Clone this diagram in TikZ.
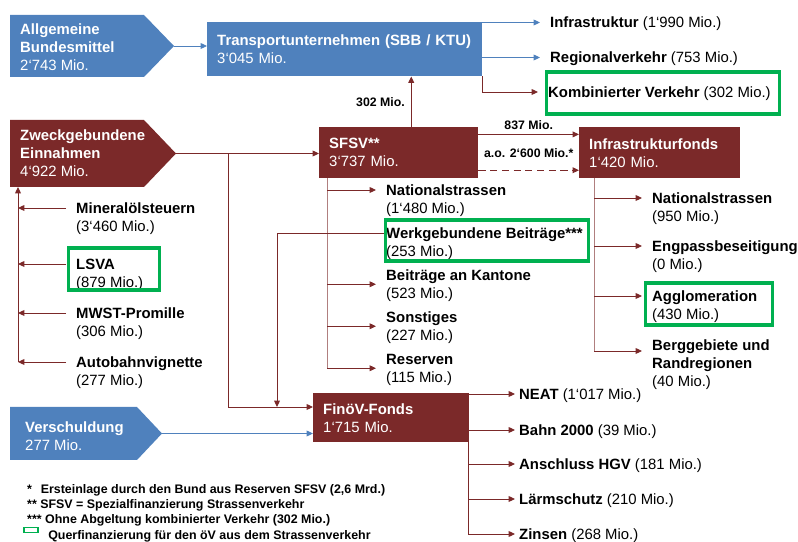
\documentclass[tikz,border=0pt]{standalone}
\usepackage{fontspec}
\setmainfont{Liberation Sans}
\usetikzlibrary{positioning,arrows.meta}

\definecolor{sbbblue}{RGB}{79,129,189}
\definecolor{fundred}{RGB}{123,41,41}
\definecolor{markgreen}{RGB}{0,176,80}

\newcommand\itemfont{\fontsize{12.7}{15.4}\selectfont}
\newcommand\lblfont{\fontsize{10.5}{12.6}\selectfont\bfseries}
\newcommand\notefont{\fontsize{10.6}{12.9}\selectfont\bfseries}

\begin{document}
\begin{tikzpicture}[
    x = 0.03cm, y = -0.03cm,
    redbox/.style  = {fill=fundred, text=white, anchor=north west,
                      inner xsep=0.3cm, inner ysep=0pt, align=left, font=\itemfont},
    bluebox/.style = {redbox, fill=sbbblue},
    ptext/.style   = {text=white, anchor=west, inner sep=0pt, align=left, font=\itemfont},
    lbase/.style   = {anchor=west, inner xsep=0.3cm, inner ysep=0pt, font=\itemfont\bfseries},
    item/.style    = {lbase, text height=12.2pt, text depth=3.2pt},
    val/.style     = {item, font=\itemfont},
    gframe/.style  = {draw=markgreen, line width=2.6pt, anchor=north west, inner sep=0pt},
    lbl/.style     = {font=\lblfont, inner sep=0pt},
    arr/.style     = {-{Triangle[length=5.5pt,width=5pt]}, draw=fundred, line width=0.8pt},
    barr/.style    = {arr, draw=sbbblue},
    trunk/.style   = {draw=fundred!60, line width=0.8pt},
    rline/.style   = {draw=fundred, line width=0.8pt}
]
\useasboundingbox (0,0) rectangle (798,542);

% sources
\fill[sbbblue] (10,15) -- (144,15) -- (174,46) -- (144,77) -- (10,77) -- cycle;
\node[ptext] (allg) at (20,47) {\textbf{Allgemeine}\\\textbf{Bundesmittel}\\2‘743 Mio.};
\coordinate (allgtip) at (174,46);

\fill[fundred] (10,120) -- (144,120) -- (176,153.5) -- (144,187) -- (10,187) -- cycle;
\node[ptext] (zweck) at (20,153.5) {\textbf{Zweckgebundene}\\\textbf{Einnahmen}\\4‘922 Mio.};
\coordinate (zwecktip) at (176,153.5);
\coordinate (zfoot) at (18,187);

\fill[sbbblue] (10,407) -- (137,407) -- (162,433.5) -- (137,460) -- (10,460) -- cycle;
\node[ptext] (versch) at (25,436) {\textbf{Verschuldung}\\277 Mio.};
\coordinate (vtip) at (162,433.5);

% funds
\node[bluebox, text width=7.65cm, minimum height=1.62cm] (transport) at (207,22)
    {\textbf{Transportunternehmen (SBB / KTU)}\\3‘045 Mio.};
\node[redbox, text width=4.17cm, minimum height=1.53cm] (sfsv) at (319,127)
    {\textbf{SFSV**}\\3‘737 Mio.};
\node[redbox, text width=4.23cm, minimum height=1.53cm] (infra) at (579,127)
    {\textbf{Infrastrukturfonds}\\1‘420 Mio.};
\node[redbox, text width=4.05cm, minimum height=1.47cm] (finov) at (313,393)
    {\textbf{FinöV-Fonds}\\1‘715 Mio.};

% Transportunternehmen
\node[item] (infstr) at (540,22.5) {Infrastruktur \mdseries(1‘990 Mio.)};
\node[item] (regio)  at (540,57.5) {Regionalverkehr \mdseries(753 Mio.)};
\node[item] (kombi)  at (538,92)   {Kombinierter Verkehr \mdseries(302 Mio.)};
\node[gframe, minimum width=6.99cm, minimum height=1.26cm] (kombibox) at (544.5,70.5) {};

% Zweckgebundene Einnahmen
\node[item] (mineral) at (66,208) {Mineralölsteuern};
\node[val, below right=0pt and 0pt of mineral.south west] (mineralval) {(3‘460 Mio.)};
\node[item] (lsva) at (66,264) {LSVA};
\node[val, below right=0pt and 0pt of lsva.south west] (lsvaval) {(879 Mio.)};
\node[gframe, minimum width=2.73cm, minimum height=1.26cm] (lsvabox) at (66.5,246.5) {};
\node[item] (mwst) at (66,313) {MWST-Promille};
\node[val, below right=0pt and 0pt of mwst.south west] (mwstval) {(306 Mio.)};
\node[item] (autob) at (66,362) {Autobahnvignette};
\node[val, below right=0pt and 0pt of autob.south west] (autobval) {(277 Mio.)};

% SFSV
\node[item] (natstr) at (376,190) {Nationalstrassen};
\node[val, below right=0pt and 0pt of natstr.south west] (natstrval) {(1‘480 Mio.)};
\node[item] (werk) at (376,233) {Werkgebundene Beiträge***};
\node[val, below right=0pt and 0pt of werk.south west] (werkval) {(253 Mio.)};
\node[gframe, minimum width=6.09cm, minimum height=1.23cm] (werkbox) at (383.5,218.5) {};
\node[item] (kant) at (376,275) {Beiträge an Kantone};
\node[val, below right=0pt and 0pt of kant.south west] (kantval) {(523 Mio.)};
\node[item] (sonst) at (376,317) {Sonstiges};
\node[val, below right=0pt and 0pt of sonst.south west] (sonstval) {(227 Mio.)};
\node[item] (reserve) at (376,359) {Reserven};
\node[val, below right=0pt and 0pt of reserve.south west] (reserveval) {(115 Mio.)};

% Infrastrukturfonds
\node[item] (infnat) at (642,198) {Nationalstrassen};
\node[val, below right=0pt and 0pt of infnat.south west] (infnatval) {(950 Mio.)};
\node[item] (engpass) at (642,246) {Engpassbeseitigung};
\node[val, below right=0pt and 0pt of engpass.south west] (engpassval) {(0 Mio.)};
\node[item] (agglo) at (642,296) {Agglomeration};
\node[val, below right=0pt and 0pt of agglo.south west] (aggloval) {(430 Mio.)};
\node[gframe, minimum width=3.81cm, minimum height=1.26cm] (agglobox) at (643.5,281.5) {};
\node[lbase, align=left] (berg) at (642,356) {Berggebiete und\\Randregionen};
\node[val, below right=0pt and 0pt of berg.south west] (bergval) {(40 Mio.)};

% FinoeV-Fonds
\node[item, inner xsep=0.12cm] (neat)   at (515,394) {NEAT \mdseries(1‘017 Mio.)};
\node[item, inner xsep=0.12cm] (bahn)   at (515,430) {Bahn 2000 \mdseries(39 Mio.)};
\node[item, inner xsep=0.12cm] (hgv)    at (515,464) {Anschluss HGV \mdseries(181 Mio.)};
\node[item, inner xsep=0.12cm] (laerm)  at (515,499) {Lärmschutz \mdseries(210 Mio.)};
\node[item, inner xsep=0.12cm] (zinsen) at (515,534) {Zinsen \mdseries(268 Mio.)};

% connectors
\draw[barr] (allgtip) -- (allgtip -| transport.west);
\draw[barr] (transport.east |- infstr.west) -- (infstr.west);
\draw[barr] (transport.east |- regio.west) -- (regio.west);
\draw[arr] (transport.south east) |- (kombi.west);

\coordinate (kvfoot) at ([xshift=0.375cm]sfsv.north);
\draw[arr] (kvfoot) -- (kvfoot |- transport.south)
    node[lbl, midway, left=0.18cm] {302 Mio.};

\draw[arr] (zwecktip) -- (zwecktip -| sfsv.west);
\coordinate (s2i) at ([yshift=0.55cm]sfsv.east);
\draw[arr] (s2i) -- (s2i -| infra.west) node[lbl, midway, above=0.13cm] {837 Mio.};
\coordinate (s2ia) at ([yshift=-0.525cm]sfsv.east);
\draw[arr, dash pattern=on 6pt off 4pt] (s2ia) -- (s2ia -| infra.west)
    node[lbl, midway, above=0.375cm] {a.o. 2‘600 Mio.*};

\draw[arr] (zfoot |- autob.west) -- (zfoot);
\draw[arr] (mineral.west) -- (mineral.west -| zfoot);
\draw[arr] (lsva.west) -- (lsva.west -| zfoot);
\draw[arr] (mwst.west) -- (mwst.west -| zfoot);
\draw[arr] (autob.west) -- (autob.west -| zfoot);

\coordinate (strunk) at ([xshift=0.24cm]sfsv.south west);
\draw[trunk] (strunk) -- (strunk |- reserve.south west);
\draw[arr] (strunk |- natstr.west) -- (natstr.west);
\draw[arr] (strunk |- kant.south west) -- (kant.south west);
\draw[arr] (strunk |- sonst.south west) -- (sonst.south west);
\draw[arr] (strunk |- reserve.south west) -- (reserve.south west);

\coordinate (itrunk) at ([xshift=0.45cm]infra.south west);
\coordinate (bergin) at ([yshift=0.15cm]berg.west);
\draw[trunk] (itrunk) -- (itrunk |- bergin);
\draw[arr] (itrunk |- infnat.west) -- (infnat.west);
\draw[arr] (itrunk |- engpass.west) -- (engpass.west);
\draw[arr] (itrunk |- agglo.west) -- (agglo.west);
\draw[arr] (itrunk |- bergin) -- (bergin);

\coordinate (zdrop) at (228,153.5);
\coordinate (fcorner) at (228,407);
\coordinate (wdrop) at (277,407);
\draw[arr] (zdrop) -- (fcorner) -- (fcorner -| finov.west);
\draw[arr] (werkbox.west |- werk.west) -| (wdrop);
\draw[barr] (vtip) -- (vtip -| finov.west);

\draw[rline] (finov.north east) -- (finov.north east |- zinsen.west);
\draw[arr] (finov.east |- neat.west) -- (neat.west);
\draw[arr] (finov.east |- bahn.west) -- (bahn.west);
\draw[arr] (finov.east |- hgv.west) -- (hgv.west);
\draw[arr] (finov.east |- laerm.west) -- (laerm.west);
\draw[arr] (finov.east |- zinsen.west) -- (zinsen.west);

% notes
\node[anchor=north west, inner sep=0pt, align=left, font=\notefont] (notes) at (27,484.5)
    {*\hspace{4.5pt} Ersteinlage durch den Bund aus Reserven SFSV (2,6 Mrd.)\\
     ** SFSV = Spezialfinanzierung Strassenverkehr\\
     *** Ohne Abgeltung kombinierter Verkehr (302 Mio.)\\
     \hspace*{18pt}Querfinanzierung für den öV aus dem Strassenverkehr};
\draw[draw=markgreen, line width=1.5pt] (24,527.5) rectangle (38,532.5);

\end{tikzpicture}
\end{document}
